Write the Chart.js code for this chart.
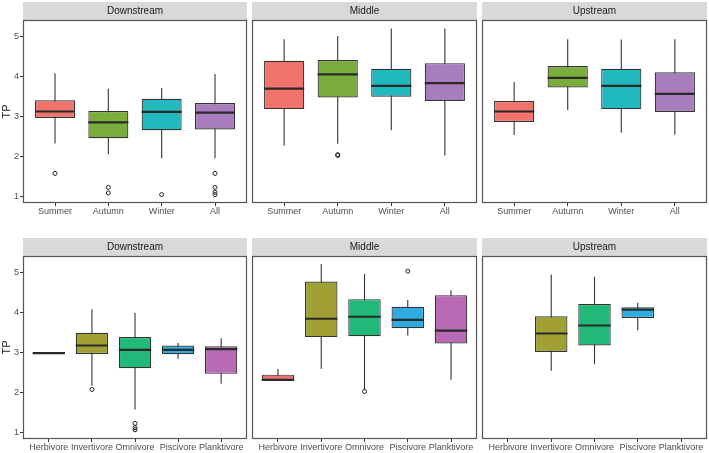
<!DOCTYPE html>
<html><head><meta charset="utf-8">
<script src="https://cdn.jsdelivr.net/npm/chart.js@4.4.1/dist/chart.umd.min.js"></script>
<style>
html,body{margin:0;padding:0;background:#fff;}
#wrap{position:relative;width:709px;height:453px;overflow:hidden;background:#fff;}
canvas{position:absolute;}
</style></head><body><div id="wrap"></div>
<script>
// ---------------- DATA ----------------
const seasons = ['Summer', 'Autumn', 'Winter', 'All'];
const feeding = ['Herbivore', 'Invertivore', 'Omnivore', 'Piscivore', 'Planktivore'];
const yTicks = [1, 2, 3, 4, 5];
const yTitle = 'TP';

// each row: [lower whisker, Q1, median, Q3, upper whisker]
const downSeason = [[2.33,2.97,3.13,3.41,4.09],[2.06,2.46,2.86,3.14,3.70],[1.96,2.66,3.12,3.45,3.72],[1.96,2.68,3.10,3.34,4.07]];
const downSeasonOut = [[1.58],[1.23,1.09],[1.05],[1.58,1.23,1.11,1.05]];
const midSeason = [[2.28,3.19,3.70,4.40,4.94],[2.32,3.48,4.06,4.42,5.02],[2.66,3.50,3.77,4.20,5.21],[2.03,3.39,3.84,4.34,5.21]];
const midSeasonOut = [[],[2.05,2.03],[],[]];
const upSeason = [[2.54,2.87,3.13,3.39,3.87],[3.16,3.73,3.97,4.27,4.94],[2.60,3.19,3.77,4.20,4.93],[2.55,3.12,3.57,4.11,4.94]];
const upSeasonOut = [[],[],[],[]];

const downFeed = [[2.98,2.98,2.99,3.00,3.00],[2.17,2.97,3.18,3.50,4.09],[1.58,2.61,3.07,3.39,4.00],[2.85,2.96,3.07,3.18,3.24],[2.22,2.47,3.09,3.16,3.36]];
const downFeedOut = [[],[2.08],[1.23,1.12,1.07],[],[]];
const midFeed = [[2.30,2.30,2.32,2.45,2.59],[2.60,3.39,3.85,4.78,5.22],[2.08,3.41,3.90,4.34,4.97],[3.43,3.61,3.82,4.15,4.32],[2.32,3.23,3.55,4.44,4.56]];
const midFeedOut = [[],[],[2.03],[5.04],[]];
const upFeed = [null,[2.55,3.02,3.48,3.91,4.96],[2.72,3.18,3.68,4.22,4.90],[3.56,3.87,4.08,4.14,4.25],null];
const upFeedOut = [[],[],[],[],[]];

const seasonColors = ['#F0746C', '#7AAD3C', '#1FB9BE', '#A77DBD'];
const feedColors = ['#F0746C', '#A0A034', '#21B979', '#2EABE0', '#B86BB4'];

// ---------------- LAYOUT ----------------
const FONT = '"Liberation Sans", Arial, Helvetica, sans-serif';
const cols = [
  {left: 0, width: 278, padL: 0, padR: 31, yAxis: true},
  {left: 222, width: 285, padL: 30, padR: 30, yAxis: false},
  {left: 452, width: 257, padL: 30, padR: 2, yAxis: false}
];
const rows = [
  {top: 2, height: 220, axisH: 19},
  {top: 238, height: 215, axisH: 14}
];
const STRIP = 18;

const panels = [
  {label: 'Downstream', cats: seasons, stats: downSeason, out: downSeasonOut, colors: seasonColors, r: 0, c: 0},
  {label: 'Middle', cats: seasons, stats: midSeason, out: midSeasonOut, colors: seasonColors, r: 0, c: 1},
  {label: 'Upstream', cats: seasons, stats: upSeason, out: upSeasonOut, colors: seasonColors, r: 0, c: 2},
  {label: 'Downstream', cats: feeding, stats: downFeed, out: downFeedOut, colors: feedColors, r: 1, c: 0},
  {label: 'Middle', cats: feeding, stats: midFeed, out: midFeedOut, colors: feedColors, r: 1, c: 1},
  {label: 'Upstream', cats: feeding, stats: upFeed, out: upFeedOut, colors: feedColors, r: 1, c: 2}
];

const facetPlugin = {
  id: 'facet',
  beforeDatasetsDraw(chart) {
    const ctx = chart.ctx, y = chart.scales.y;
    const meta = chart.getDatasetMeta(0);
    const data = chart.data.datasets[0].data;
    ctx.save();
    ctx.strokeStyle = '#333333';
    ctx.lineWidth = 1.1;
    meta.data.forEach((el, i) => {
      const s = data[i].stats;
      ctx.beginPath();
      ctx.moveTo(el.x, y.getPixelForValue(s[0]));
      ctx.lineTo(el.x, y.getPixelForValue(s[4]));
      ctx.stroke();
    });
    ctx.restore();
  },
  afterDatasetsDraw(chart) {
    const ctx = chart.ctx, y = chart.scales.y;
    const meta = chart.getDatasetMeta(0);
    const data = chart.data.datasets[0].data;
    ctx.save();
    ctx.strokeStyle = '#2a2a2a';
    ctx.lineWidth = 2.2;
    meta.data.forEach((el, i) => {
      const s = data[i].stats;
      const py = y.getPixelForValue(s[2]);
      ctx.beginPath();
      ctx.moveTo(el.x - el.width / 2, py);
      ctx.lineTo(el.x + el.width / 2, py);
      ctx.stroke();
    });
    ctx.restore();
  },
  afterDraw(chart) {
    const ctx = chart.ctx, a = chart.chartArea;
    const label = chart.options.plugins.facet.label;
    ctx.save();
    ctx.fillStyle = '#D9D9D9';
    ctx.fillRect(a.left, a.top - STRIP, a.right - a.left, STRIP);
    ctx.fillStyle = '#1a1a1a';
    ctx.font = '10px ' + FONT;
    ctx.textAlign = 'center';
    ctx.textBaseline = 'middle';
    ctx.fillText(label, (a.left + a.right) / 2, a.top - STRIP / 2 + 0.5);
    ctx.strokeStyle = '#555555';
    ctx.lineWidth = 1.2;
    ctx.strokeRect(a.left + 0.5, a.top + 0.5, a.right - a.left - 1, a.bottom - a.top - 1);
    ctx.restore();
  }
};

const wrap = document.getElementById('wrap');
panels.forEach(p => {
  const col = cols[p.c], row = rows[p.r];
  const cv = document.createElement('canvas');
  cv.width = col.width; cv.height = row.height;
  cv.style.left = col.left + 'px'; cv.style.top = row.top + 'px';
  cv.style.width = col.width + 'px'; cv.style.height = row.height + 'px';
  wrap.appendChild(cv);

  const boxData = [], boxColors = [], outData = [];
  p.cats.forEach((c, i) => {
    const s = p.stats[i];
    if (s) {
      boxData.push({x: i + 1, y: [s[1], s[3]], stats: s});
      boxColors.push(p.colors[i]);
    }
    (p.out[i] || []).forEach(v => outData.push({x: i + 1, y: v}));
  });

  new Chart(cv, {
    type: 'bar',
    data: {
      datasets: [
        {
          type: 'bar', data: boxData, backgroundColor: boxColors,
          borderColor: '#333333', borderWidth: 1.2, borderSkipped: false,
          barPercentage: 0.75, categoryPercentage: 1.0, order: 2
        },
        {
          type: 'scatter', data: outData, pointStyle: 'circle', pointRadius: 2,
          pointBorderWidth: 1, pointBackgroundColor: 'rgba(255,255,255,0)',
          pointBorderColor: '#222222', showLine: false, order: 1
        }
      ]
    },
    options: {
      responsive: false, animation: false, devicePixelRatio: 1,
      layout: {padding: {top: STRIP, left: col.padL, right: col.padR, bottom: 0}},
      plugins: {legend: {display: false}, tooltip: {enabled: false}, facet: {label: p.label}},
      scales: {
        x: {
          type: 'linear', min: 0.4, max: p.cats.length + 0.6, offset: false,
          afterBuildTicks: s => { s.ticks = p.cats.map((c, i) => ({value: i + 1})); },
          afterFit: s => { s.height = row.axisH; },
          grid: {drawOnChartArea: false, drawTicks: true, tickLength: 3, color: '#333333', offset: false},
          border: {display: false},
          ticks: {
            autoSkip: false, maxRotation: 0, minRotation: 0, padding: 0,
            color: '#4D4D4D', font: {family: FONT, size: 9},
            callback: v => p.cats[Math.round(v) - 1]
          }
        },
        y: {
          type: 'linear', min: 0.84, max: 5.42, display: col.yAxis,
          afterBuildTicks: s => { s.ticks = yTicks.map(v => ({value: v})); },
          afterFit: s => { s.width = col.yAxis ? 23 : 0; },
          grid: {drawOnChartArea: false, drawTicks: true, tickLength: 3, color: '#333333'},
          border: {display: false},
          title: {display: true, text: yTitle, color: '#1a1a1a', font: {family: FONT, size: 11}, padding: 0},
          ticks: {padding: 1, color: '#4D4D4D', font: {family: FONT, size: 9}, callback: v => String(v)}
        }
      }
    },
    plugins: [facetPlugin]
  });
});
</script>
</body></html>
